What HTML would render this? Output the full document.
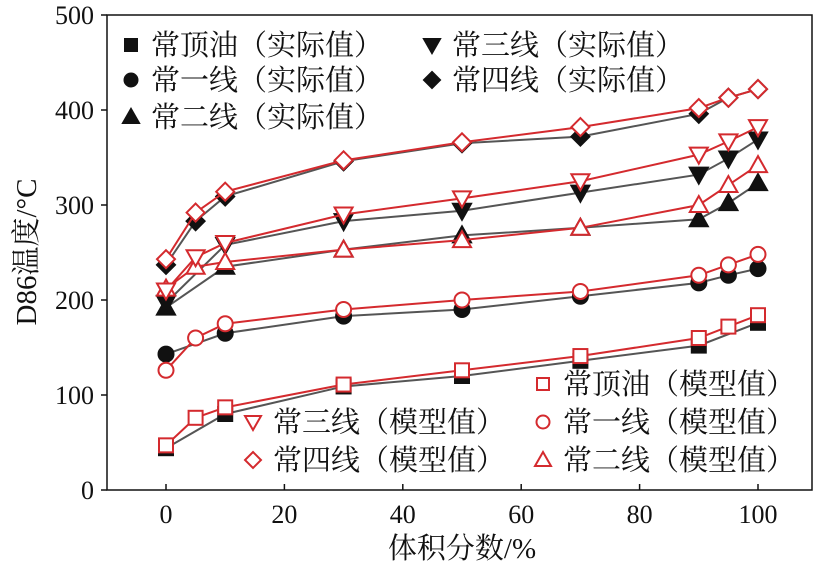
<!DOCTYPE html>
<html><head><meta charset="utf-8"><style>
body{margin:0;background:#fff}
text{font-family:"Liberation Serif","Noto Serif CJK SC",serif;fill:#111}
</style></head><body>
<svg id="c" width="823" height="569" xmlns="http://www.w3.org/2000/svg"></svg>
<script>
const xFull=[0,5,10,30,50,70,90,95,100];
const xSqA=[0,10,30,50,70,90,100];
const sqA=[44,80,109,120,136,152,176];
const sqM=[47,76,87,111,126,141,160,172,184];
const xA=[0,10,30,50,70,90,95,100];
const ciA=[143,165,183,190,204,218,226,233];
const ciM=[126,160,175,190,200,209,226,237,248];
const upA=[192,235,253,268,276,285,302,323];
const upM=[212,235,240,253,263,276,300,321,342];
const dnA=[197,258,283,294,313,332,349,369];
const dnM=[210,245,260,290,307,325,353,367,382];
const diA=[237,283,309,346,365,372,396,413,422];
const diM=[243,292,314,347,366,382,402,413,422];
const xTicks=[0,20,40,60,80,100];
const yTicks=[0,100,200,300,400,500];
const NS="http://www.w3.org/2000/svg";
const svg=document.getElementById('c');
const L=107,R=812,T=15,B=490;
const X=v=>166+(v)*5.92, Y=v=>B-v*0.95;
function el(t,a,p){const e=document.createElementNS(NS,t);for(const k in a)e.setAttribute(k,a[k]);(p||svg).appendChild(e);return e;}
const frame=el('rect',{x:L,y:T,width:R-L,height:B-T,fill:'none',stroke:'#111','stroke-width':1.5});


xTicks.forEach(v=>{
 const t=el('line',{x1:X(v),x2:X(v),y1:B,y2:B-6,stroke:'#111','stroke-width':1.5});
 
 
 const l=el('text',{x:X(v),y:B+33,'text-anchor':'middle','font-size':26});l.textContent=v;
 
 
});
yTicks.forEach(v=>{
 const t=el('line',{x1:L-6,x2:L,y1:Y(v),y2:Y(v),stroke:'#111','stroke-width':1.5});
 
 
 const l=el('text',{x:L-13,y:Y(v)+9,'text-anchor':'end','font-size':26});l.textContent=v;
 
 
});
const xt=el('text',{x:462,y:558,'text-anchor':'middle','font-size':29});xt.textContent='体积分数/%';


const yt=el('text',{x:0,y:0,'text-anchor':'middle','font-size':29,transform:'translate(36,252) rotate(-90)'});yt.textContent='D86温度/°C';


function marker(kind,cx,cy,filled,g,s){
 s=s||7;
 const col=filled?'#111':'#d42a2e',f=filled?'#111':'#fff';
 const a={fill:f,stroke:col,'stroke-width':2};
 let e;
 if(kind==='sq')e=el('rect',Object.assign({x:cx-s,y:cy-s,width:2*s,height:2*s},a),g);
 else if(kind==='ci')e=el('circle',Object.assign({cx:cx,cy:cy,r:s+0.5},a),g);
 else if(kind==='up')e=el('polygon',Object.assign({points:`${cx},${cy-s-2} ${cx-s-2},${cy+s} ${cx+s+2},${cy+s}`},a),g);
 else if(kind==='dn')e=el('polygon',Object.assign({points:`${cx},${cy+s+2} ${cx-s-2},${cy-s} ${cx+s+2},${cy-s}`},a),g);
 else e=el('polygon',Object.assign({points:`${cx},${cy-s-2} ${cx+s+2},${cy} ${cx},${cy+s+2} ${cx-s-2},${cy}`},a),g);
 
 
}
function series(name,kind,xs,ys,filled){
 const g=el('g',{});
 
 
 const p=el('polyline',{points:xs.map((x,i)=>X(x)+','+Y(ys[i])).join(' '),fill:'none',stroke:filled?'#555':'#d42a2e','stroke-width':2},g);
 
 
 xs.forEach((x,i)=>marker(kind,X(x),Y(ys[i]),filled,g));
}
series('top-oil-actual','sq',xSqA,sqA,true);
series('line1-actual','ci',xA,ciA,true);
series('line2-actual','up',xA,upA,true);
series('line3-actual','dn',xA,dnA,true);
series('line4-actual','di',xFull,diA,true);
series('top-oil-model','sq',xFull,sqM,false);
series('line1-model','ci',xFull,ciM,false);
series('line2-model','up',xFull,upM,false);
series('line3-model','dn',xFull,dnM,false);
series('line4-model','di',xFull,diM,false);
function leg(kind,filled,x,y,label){
 const g=el('g',{});
 
 
 marker(kind,x,y,filled,g,6);
 const t=el('text',{x:x+20,y:y+10,'font-size':29},g);t.textContent=label;
}
leg('sq',true,131,45,'常顶油（实际值）');
leg('dn',true,432,45,'常三线（实际值）');
leg('ci',true,131,80,'常一线（实际值）');
leg('di',true,432,80,'常四线（实际值）');
leg('up',true,131,117,'常二线（实际值）');
leg('sq',false,543,384,'常顶油（模型值）');
leg('dn',false,253,422,'常三线（模型值）');
leg('ci',false,543,422,'常一线（模型值）');
leg('di',false,253,460,'常四线（模型值）');
leg('up',false,543,460,'常二线（模型值）');
</script>
</body></html>
